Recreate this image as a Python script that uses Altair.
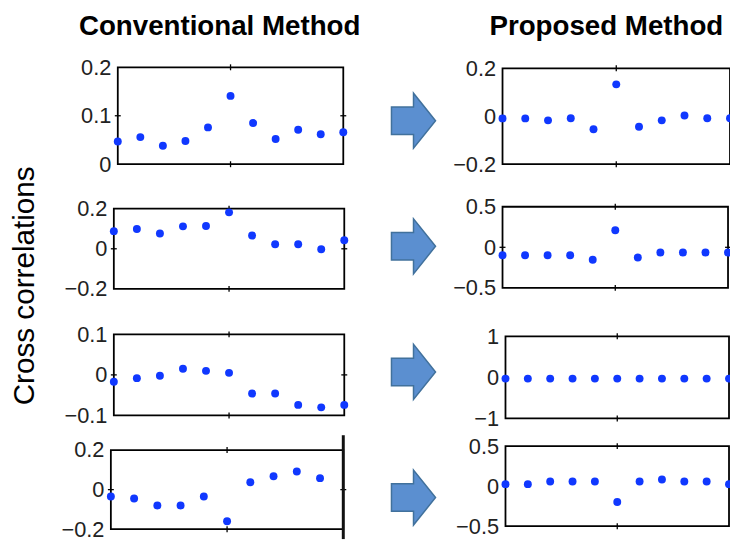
import altair as alt
import pandas as pd

# ---- data ----
lags = [-5, -4, -3, -2, -1, 0, 1, 2, 3, 4, 5]

conv1 = [0.047, 0.056, 0.038, 0.048, 0.076, 0.141, 0.085, 0.052, 0.071, 0.062, 0.066]
conv2 = [0.088, 0.099, 0.076, 0.112, 0.114, 0.182, 0.066, 0.023, 0.023, -0.002, 0.043]
conv3 = [-0.017, -0.008, -0.002, 0.015, 0.010, 0.005, -0.046, -0.046, -0.074, -0.080, -0.074]
conv4 = [-0.035, -0.045, -0.080, -0.080, -0.035, -0.160, 0.037, 0.068, 0.092, 0.058]

prop1 = [-0.009, -0.009, -0.017, -0.008, -0.054, 0.133, -0.044, -0.017, 0.003, -0.008, -0.008]
prop2 = [-0.097, -0.097, -0.097, -0.097, -0.153, 0.210, -0.125, -0.065, -0.065, -0.065, -0.065]
prop3 = [-0.03, -0.03, -0.03, -0.03, -0.03, -0.03, -0.03, -0.03, -0.03, -0.03, -0.03]
prop4 = [0.025, 0.025, 0.058, 0.058, 0.058, -0.198, 0.058, 0.083, 0.058, 0.058, 0.025]

y_domains = [[0, 0.2], [-0.2, 0.2], [-0.1, 0.1], [-0.2, 0.2],
             [-0.2, 0.2], [-0.5, 0.5], [-1, 1], [-0.5, 0.5]]
y_ticks = [[0, 0.1, 0.2], [-0.2, 0, 0.2], [-0.1, 0, 0.1], [-0.2, 0, 0.2],
           [-0.2, 0, 0.2], [-0.5, 0, 0.5], [-1, 0, 1], [-0.5, 0, 0.5]]
series = [conv1, conv2, conv3, conv4, prop1, prop2, prop3, prop4]

titles = ["Conventional Method", "Proposed Method"]
y_title = "Cross correlations"
arrow_rows = [1, 2, 3, 4]

# ---- layout (pixel placement of each panel inside the plot area) ----
x_ranges = [[111, 339], [107, 340], [107, 340], [104, 339],
            [500, 730], [500, 728], [503, 729], [503, 729]]
y_ranges = [[155, 57], [281, 200], [409, 327], [524, 444],
            [155, 58], [280, 198], [412, 329], [521, 440]]

BLUE = "#1038ff"
FONT = "Liberation Sans"


def panel(vals, ydom, yt, xr, yr):
    df = pd.DataFrame({"lag": lags[:len(vals)], "r": vals})
    fr = pd.DataFrame({"lag": [lags[0]], "lag2": [lags[-1]],
                       "r": [ydom[0]], "r2": [ydom[1]]})
    xs = alt.Scale(domain=[lags[0], lags[-1]], range=xr, nice=False, zero=False)
    ys = alt.Scale(domain=ydom, range=yr, nice=False, zero=False)
    yaxis = alt.Axis(values=yt, format="~g", ticks=False, domain=False, grid=False,
                     labelFontSize=22, labelFont=FONT, labelColor="#222222",
                     labelPadding=7, offset=-xr[0], orient="left", title=None,
                     labelFlush=False, labelOverlap=False)
    X = alt.X("lag:Q", scale=xs, axis=None)
    Y = alt.Y("r:Q", scale=ys, axis=yaxis)
    frame = alt.Chart(fr).mark_rect(fillOpacity=0, stroke="#000000", strokeWidth=1.8).encode(
        x=X, x2="lag2", y=Y, y2="r2")
    # small box ticks: x=0 on bottom/top edge, middle y tick on right edge
    vt = pd.DataFrame({"lag": [0, 0], "r": [ydom[0], ydom[1]]})
    vticks = alt.Chart(vt).mark_tick(orient="vertical", size=6, thickness=1.3,
                                     color="#000000", opacity=1).encode(x=X, y=Y)
    ht = pd.DataFrame({"lag": [lags[0], lags[-1]], "r": [yt[1], yt[1]]})
    hticks = alt.Chart(ht).mark_tick(orient="horizontal", size=6, thickness=1.3,
                                     color="#000000", opacity=1).encode(x=X, y=Y)
    pts = alt.Chart(df).mark_circle(size=64, color=BLUE, opacity=1).encode(x=X, y=Y)
    return alt.layer(frame, vticks, hticks, pts)


panels = [panel(series[i], y_domains[i], y_ticks[i], x_ranges[i], y_ranges[i])
          for i in range(8)]

arrow_path = "M -0.8 -0.5 L 0 -0.5 L 0 -1 L 0.8 0 L 0 1 L 0 0.5 L -0.8 0.5 Z"
arrows = alt.Chart(pd.DataFrame({"row": arrow_rows})).mark_point(
    shape=arrow_path, size=3100, filled=True, fill="#5b8fd0", stroke="#41719c",
    strokeWidth=1.5, opacity=1).encode(
    x=alt.value(410),
    y=alt.Y("row:Q", scale=alt.Scale(domain=[1, 4], range=[111, 492]), axis=None))

thick = alt.Chart(pd.DataFrame({"a": [0]})).mark_rule(color="#111111", strokeWidth=3).encode(
    x=alt.value(339), y=alt.value(429), y2=alt.value(534))

t1 = alt.Chart(pd.DataFrame({"t": [titles[0]]})).mark_text(
    font=FONT, fontSize=28, fontWeight="bold", color="#000000", align="center",
    baseline="alphabetic").encode(text="t:N", x=alt.value(214), y=alt.value(24))
t2 = alt.Chart(pd.DataFrame({"t": [titles[1]]})).mark_text(
    font=FONT, fontSize=28, fontWeight="bold", color="#000000", align="center",
    baseline="alphabetic").encode(text="t:N", x=alt.value(605), y=alt.value(24))
ty = alt.Chart(pd.DataFrame({"t": [y_title]})).mark_text(
    font=FONT, fontSize=30, color="#000000", align="center", baseline="middle",
    angle=270).encode(text="t:N", x=alt.value(17), y=alt.value(278))

chart = alt.layer(*panels, arrows, thick, t1, t2, ty).resolve_scale(
    x="independent", y="independent").properties(
    width=730, height=534, padding=0,
    autosize=alt.AutoSizeParams(type="none")).configure_view(stroke=None)

chart.save("out.html", embed_options={"renderer": "svg", "actions": False})
